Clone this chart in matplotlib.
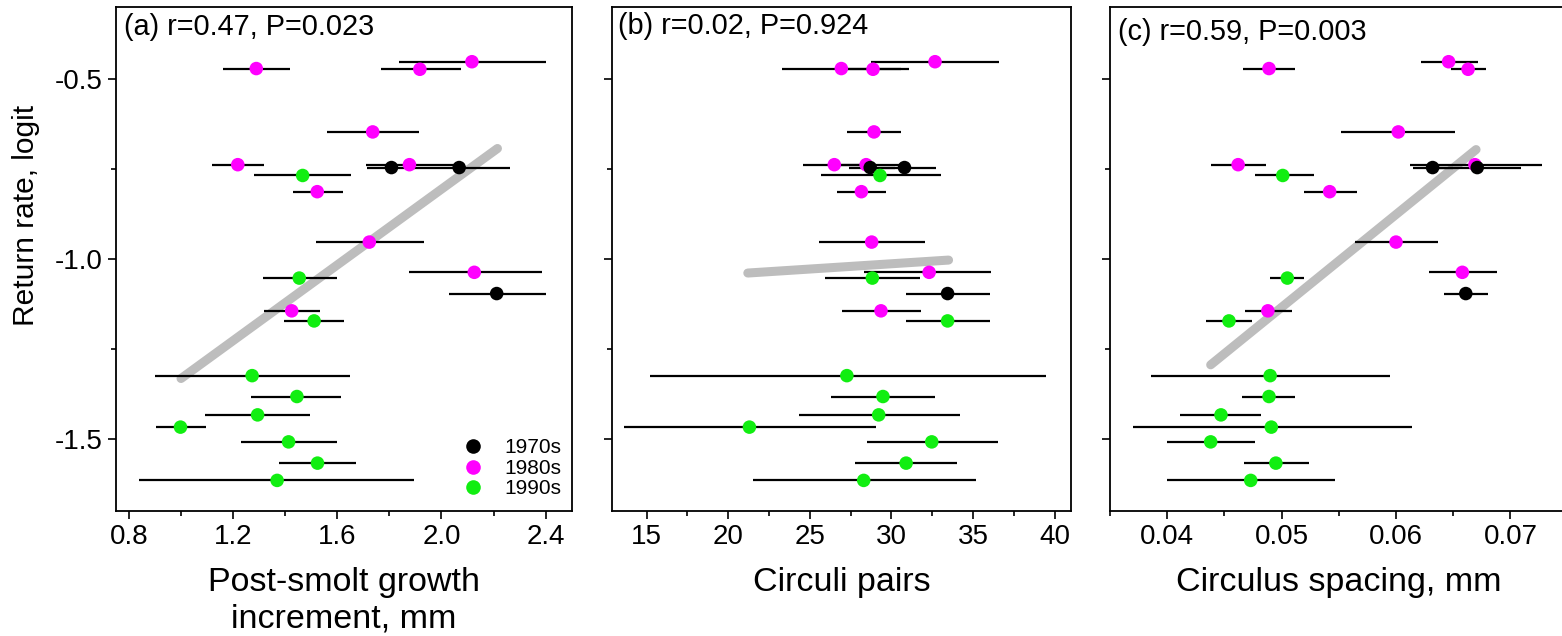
import matplotlib
matplotlib.use("Agg")
import matplotlib.pyplot as plt
from matplotlib.lines import Line2D
from matplotlib.ticker import MultipleLocator, FormatStrFormatter
import numpy as np

plt.rcParams['font.family'] = ['Liberation Sans', 'DejaVu Sans']

# ---------------- data ----------------
decade = ['1980s', '1980s', '1980s', '1980s', '1980s', '1980s', '1970s', '1970s',
          '1990s', '1980s', '1980s', '1980s', '1990s', '1970s', '1980s', '1990s',
          '1990s', '1990s', '1990s', '1990s', '1990s', '1990s', '1990s']
return_rate = [-0.452, -0.471, -0.473, -0.647, -0.738, -0.738, -0.746, -0.746,
               -0.768, -0.813, -0.953, -1.037, -1.053, -1.096, -1.144, -1.172,
               -1.324, -1.382, -1.433, -1.467, -1.508, -1.567, -1.615]

growth = [2.117, 1.289, 1.917, 1.736, 1.218, 1.877, 1.808, 2.068,
          1.467, 1.523, 1.723, 2.126, 1.454, 2.212, 1.425, 1.511,
          1.273, 1.445, 1.294, 0.998, 1.413, 1.524, 1.369]
growth_lo = [1.836, 1.163, 1.766, 1.562, 1.118, 1.710, 1.715, 1.880,
             1.282, 1.431, 1.518, 1.875, 1.314, 2.027, 1.317, 1.397,
             0.899, 1.270, 1.094, 0.903, 1.231, 1.377, 0.838]
growth_hi = [2.400, 1.418, 2.075, 1.915, 1.320, 2.050, 1.900, 2.263,
             1.654, 1.621, 1.933, 2.387, 1.598, 2.400, 1.535, 1.627,
             1.647, 1.615, 1.495, 1.097, 1.600, 1.672, 1.895]

pairs = [32.67, 26.93, 28.87, 28.93, 26.50, 28.45, 28.70, 30.80,
         29.30, 28.16, 28.79, 32.31, 28.83, 33.44, 29.36, 33.44,
         27.27, 29.48, 29.22, 21.30, 32.47, 30.90, 28.30]
pairs_lo = [28.73, 23.31, 26.70, 27.26, 24.60, 26.60, 27.40, 28.80,
            25.66, 26.64, 25.54, 28.32, 25.96, 30.88, 26.99, 30.92,
            15.18, 26.32, 24.33, 13.59, 28.48, 27.77, 21.50]
pairs_hi = [36.60, 30.57, 31.08, 30.61, 28.40, 30.90, 30.20, 32.70,
            33.03, 29.65, 32.04, 36.10, 31.76, 36.05, 31.80, 36.05,
            39.47, 32.66, 34.19, 29.05, 36.51, 34.03, 35.18]

spacing = [0.0646, 0.0489, 0.0663, 0.0602, 0.0462, 0.0669, 0.0632, 0.0671,
           0.0501, 0.0542, 0.0600, 0.0658, 0.0505, 0.0661, 0.0488, 0.0454,
           0.0490, 0.0489, 0.0447, 0.0491, 0.0438, 0.0495, 0.0473]
spacing_lo = [0.0622, 0.0466, 0.0648, 0.0552, 0.0438, 0.0612, 0.0615, 0.0632,
              0.0477, 0.0520, 0.0564, 0.0629, 0.0490, 0.0642, 0.0468, 0.0434,
              0.0386, 0.0465, 0.0411, 0.0370, 0.0400, 0.0467, 0.0400]
spacing_hi = [0.0672, 0.0512, 0.0679, 0.0652, 0.0486, 0.0728, 0.0650, 0.0709,
              0.0528, 0.0566, 0.0637, 0.0688, 0.0520, 0.0680, 0.0509, 0.0474,
              0.0595, 0.0512, 0.0482, 0.0614, 0.0477, 0.0524, 0.0547]

fit_growth_x = [1.000, 2.215]
fit_growth_y = [-1.332, -0.693]
fit_pairs_x = [21.2, 33.5]
fit_pairs_y = [-1.039, -1.003]
fit_spacing_x = [0.0438, 0.0670]
fit_spacing_y = [-1.294, -0.696]

panel_text = ['(a) r=0.47, P=0.023', '(b) r=0.02, P=0.924', '(c) r=0.59, P=0.003']
x_labels = ['Post-smolt growth\nincrement, mm', 'Circuli pairs', 'Circulus spacing, mm']
decades = ['1970s', '1980s', '1990s']
decade_colors = {'1970s': '#000000', '1980s': '#ff00ff', '1990s': '#11ee11'}

# ---------------- figure ----------------
W, H = 1562, 636
fig = plt.figure(figsize=(W / 100, H / 100), dpi=100)

def px_axes(left, right, top=7, bottom=511):
    return fig.add_axes([left / W, 1 - bottom / H, (right - left) / W, (bottom - top) / H])

ax_a = px_axes(115.9, 571.7)
ax_b = px_axes(612.3, 1071.0)
ax_c = px_axes(1110.0, 1567.6)
axes = [ax_a, ax_b, ax_c]

series = [
    (growth, growth_lo, growth_hi, fit_growth_x, fit_growth_y),
    (pairs, pairs_lo, pairs_hi, fit_pairs_x, fit_pairs_y),
    (spacing, spacing_lo, spacing_hi, fit_spacing_x, fit_spacing_y),
]

y = np.array(return_rate)
cols = [decade_colors[d] for d in decade]
for ax, (xv, lo, hi, fx, fy) in zip(axes, series):
    xv = np.array(xv); lo = np.array(lo); hi = np.array(hi)
    ax.plot(fx, fy, color='#bdbdbd', lw=6.5, solid_capstyle='round', zorder=1)
    ax.errorbar(xv, y, xerr=[xv - lo, hi - xv], fmt='none', ecolor='black',
                elinewidth=1.6, capsize=0, zorder=2)
    ax.scatter(xv, y, s=95, c=cols, edgecolors='none', zorder=3)
    ax.set_ylim(-1.7, -0.3)
    ax.yaxis.set_major_locator(MultipleLocator(0.5))
    ax.yaxis.set_minor_locator(MultipleLocator(0.25))
    for sp in ax.spines.values():
        sp.set_linewidth(1.3)
    ax.tick_params(which='major', direction='out', length=6, width=1.2, labelsize=20)
    ax.tick_params(which='minor', direction='out', length=3.5, width=1.2)

ax_a.set_xlim(0.75, 2.5)
ax_a.xaxis.set_major_locator(MultipleLocator(0.4))
ax_a.xaxis.set_minor_locator(MultipleLocator(0.2))
ax_a.xaxis.set_major_formatter(FormatStrFormatter('%.1f'))
ax_a.yaxis.set_major_formatter(FormatStrFormatter('%.1f'))

ax_b.set_xlim(12.9, 41.0)
ax_b.xaxis.set_major_locator(MultipleLocator(5))
ax_b.xaxis.set_minor_locator(MultipleLocator(2.5))
ax_b.tick_params(axis='y', which='both', labelleft=False)

ax_c.set_xlim(0.035, 0.075)
ax_c.xaxis.set_major_locator(MultipleLocator(0.01))
ax_c.xaxis.set_minor_locator(MultipleLocator(0.005))
ax_c.xaxis.set_major_formatter(FormatStrFormatter('%.2f'))
ax_c.tick_params(axis='y', which='both', labelleft=False)

for ax, lab in zip(axes, x_labels):
    ax.set_xlabel(lab, fontsize=24.5, labelpad=12, linespacing=1.25)

text_pos = [(0.018, 0.96), (0.013, 0.962), (0.017, 0.95)]
for ax, t, (tx, ty) in zip(axes, panel_text, text_pos):
    ax.text(tx, ty, t, transform=ax.transAxes, fontsize=20.8, ha='left', va='center')

fig.text(26 / W, 1 - 215 / H, 'Return rate, logit', rotation=90, fontsize=21.5,
         ha='center', va='center')

handles = [Line2D([], [], ls='none', marker='o', markersize=10.5,
                  markerfacecolor=decade_colors[d], markeredgecolor='none') for d in decades]
ax_a.legend(handles, decades, loc='lower right', bbox_to_anchor=(1.005, 0.0),
            frameon=False, fontsize=15, handlelength=1.0, handletextpad=1.0,
            labelspacing=0.08, borderaxespad=0.2)

fig.savefig('out.png', dpi=100)
